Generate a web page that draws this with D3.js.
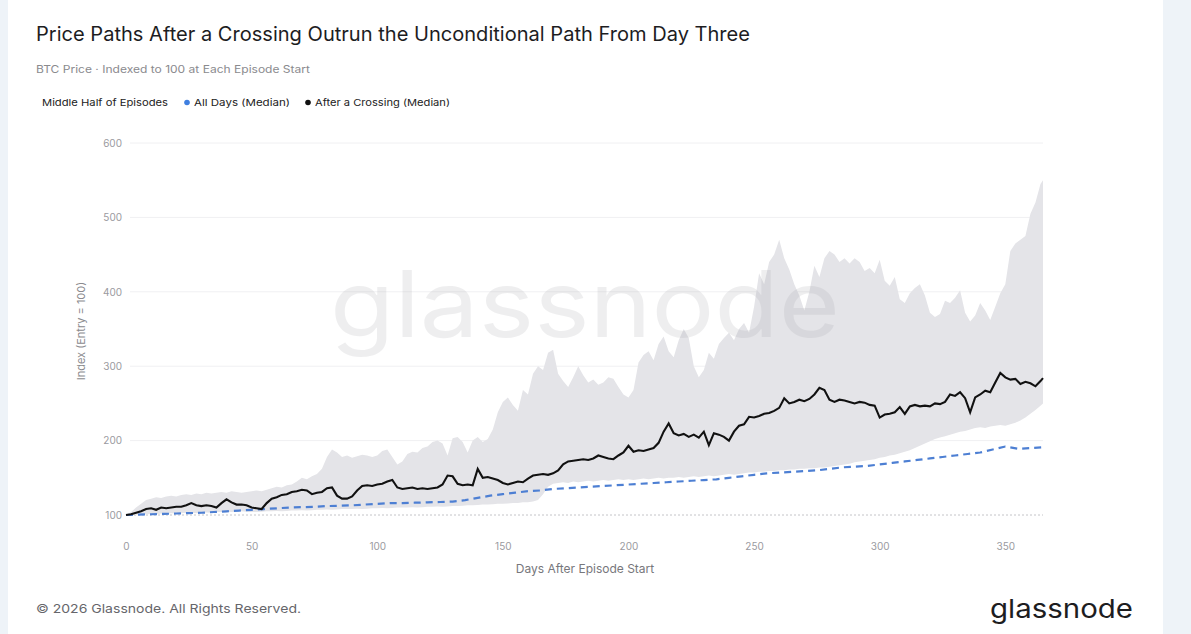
<!DOCTYPE html>
<html>
<head>
<meta charset="utf-8">
<script src="https://cdn.jsdelivr.net/npm/d3@7"></script>
<style>
  html, body { margin: 0; padding: 0; background: #eef3f8; }
  body { width: 1191px; height: 634px; overflow: hidden; font-family: Inter, Roboto, "Noto Sans", sans-serif; }
  #card { position: absolute; left: 8px; top: -12px; width: 1155px; height: 660px; background: #fff; border-radius: 12px; }
  svg { position: absolute; left: 0; top: 0; }
</style>
</head>
<body>
<div id="card"></div>
<div id="chart"></div>
<script>
// Chart data
const title = 'Price Paths After a Crossing Outrun the Unconditional Path From Day Three';
const subtitle = 'BTC Price · Indexed to 100 at Each Episode Start';
const legendLabels = ['Middle Half of Episodes', 'All Days (Median)', 'After a Crossing (Median)'];
const yTicks = [100, 200, 300, 400, 500, 600];
const xTicks = [0, 50, 100, 150, 200, 250, 300, 350];

// band + crossing series sampled every 2 days, last point is day 365
const days = d3.range(0, 365, 2).concat([365]);

const bandUpper = [
  100, 104, 110, 115, 120, 122, 124, 123, 125, 126, 125, 127, 128, 127, 129, 128, 130, 129, 130, 131,
  130, 132, 131, 130, 131, 132, 133, 132, 134, 136, 138, 137, 140, 141, 145, 150, 148, 152, 155, 162,
  178, 188, 184, 178, 180, 177, 179, 181, 180, 178, 180, 186, 188, 178, 168, 172, 182, 185, 184, 190,
  192, 198, 200, 196, 180, 203, 205, 198, 184, 200, 205, 198, 202, 215, 238, 252, 258, 248, 240, 268,
  262, 290, 300, 295, 318, 322, 290, 280, 272, 285, 300, 288, 278, 282, 275, 278, 285, 283, 272, 262,
  258, 268, 305, 315, 320, 308, 330, 340, 320, 312, 335, 350, 338, 300, 285, 295, 318, 310, 330, 338,
  345, 335, 350, 358, 345, 380, 425, 410, 440, 450, 470, 445, 430, 410, 395, 375, 400, 435, 420, 445,
  455, 450, 440, 445, 438, 445, 440, 428, 432, 425, 443, 415, 408, 420, 390, 385, 398, 405, 410, 395,
  372, 366, 370, 388, 385, 392, 402, 372, 360, 368, 385, 375, 362, 380, 398, 410, 455, 465, 470, 475,
  505, 520, 545, 550
];

const bandLower = [
  100, 100, 100.5, 101, 101, 101.5, 101, 102, 102, 102.5, 102, 102.5, 103, 103, 102.5, 103, 103.5, 103, 104, 104,
  104.5, 104, 104.5, 105, 104.5, 104, 104, 104.5, 105, 105, 105.5, 105, 105.5, 106, 106, 106.5, 106, 106.5, 107, 107,
  107.5, 107, 107.5, 108, 108, 108, 108.5, 108, 108.5, 109, 109, 109.5, 109, 109.5, 110, 110, 110, 110.5, 110, 110.5,
  111, 111, 111.5, 111, 111.5, 112, 112, 112.5, 113, 113, 113.5, 114, 114, 114.5, 115, 115, 115.5, 116, 116, 117,
  117, 118, 120, 128, 138, 142, 143, 144, 143, 145, 144, 145, 146, 145, 146, 147, 146, 147, 148, 147,
  148, 147, 148, 149, 148, 149, 150, 149, 150, 150, 151, 150, 151, 152, 151, 152, 153, 152, 153, 154,
  155, 154, 155, 156, 157, 157, 158, 158, 159, 159, 160, 160, 161, 161, 162, 162, 163, 163, 164, 164,
  165, 166, 167, 168, 169, 171, 172, 173, 174, 175, 177, 178, 180, 181, 183, 185, 187, 190, 193, 196,
  199, 202, 204, 206, 208, 210, 212, 213, 215, 217, 218, 217, 219, 220, 221, 220, 222, 224, 227, 231,
  236, 241, 247, 250
];

const afterCrossing = [
  100, 101, 103, 105, 108, 109, 107, 110, 109, 110, 111, 111, 113, 116, 113, 112, 113, 112, 110, 116,
  121, 117, 114, 114, 113, 110, 109, 108, 116, 122, 124, 127, 128, 131, 132, 134, 133, 128, 130, 131,
  136, 137, 126, 122, 122, 125, 133, 139, 140, 139, 141, 142, 145, 147, 137, 135, 136, 137, 135, 136,
  135, 136, 137, 141, 153, 152, 142, 140, 141, 140, 162, 150, 151, 149, 147, 143, 141, 143, 145, 144,
  149, 153, 154, 155, 154, 156, 160, 168, 172, 173, 174, 175, 174, 176, 180, 178, 176, 175, 180, 184,
  193, 185, 187, 186, 188, 190, 197, 212, 223, 210, 207, 209, 205, 208, 204, 212, 194, 210, 208, 205,
  200, 212, 220, 222, 232, 231, 233, 236, 237, 240, 244, 257, 250, 252, 255, 253, 256, 262, 271, 268,
  255, 252, 255, 254, 252, 250, 252, 251, 248, 247, 231, 235, 236, 238, 245, 236, 246, 248, 246, 247,
  246, 250, 249, 252, 262, 260, 265, 257, 238, 258, 262, 267, 265, 278, 291, 285, 282, 283, 276, 279,
  277, 273, 280, 284
];

// unconditional median, every 5 days
const allDaysX = d3.range(0, 366, 5);
const allDaysMedian = [
  100, 100.5, 101, 101.5, 102, 102.5, 103, 104, 105, 106, 107, 108, 109, 110, 110.5, 111, 112, 112.5, 113, 114,
  115, 116, 116, 116.5, 117, 117.5, 118, 120, 123, 126, 128, 130, 132, 133, 135, 136, 137, 138, 139, 140,
  141, 142, 143, 144, 145, 146, 147, 148, 150, 152, 154, 156, 157, 158, 159, 160, 162, 164, 165, 166,
  168, 170, 172, 174, 176, 178, 180, 182, 184, 188, 192, 189, 190, 191
];

const W = 1191, H = 634;
const margin = { left: 126, right: 148, top: 143, bottom: 119 };

const svg = d3.select('#chart').append('svg')
    .attr('width', W)
    .attr('height', H);

const x = d3.scaleLinear().domain([0, 365]).range([margin.left, W - margin.right]);
const y = d3.scaleLinear().domain([100, 600]).range([H - margin.bottom, margin.top]);

// Title block
svg.append('text')
    .attr('x', 36).attr('y', 41)
    .attr('font-size', '19.5px')
    .attr('fill', '#1d1d1f')
    .attr('textLength', 714)
    .attr('lengthAdjust', 'spacingAndGlyphs')
    .text(title);

svg.append('text')
    .attr('x', 36).attr('y', 73)
    .attr('font-size', '10.5px')
    .attr('fill', '#8a8a8e')
    .attr('textLength', 274)
    .attr('lengthAdjust', 'spacingAndGlyphs')
    .text(subtitle);

// Legend
const legend = svg.append('g').attr('font-size', '9.5px').attr('fill', '#222');
legend.append('text').attr('x', 42).attr('y', 106)
    .attr('textLength', 126).attr('lengthAdjust', 'spacingAndGlyphs')
    .text(legendLabels[0]);
legend.append('circle').attr('cx', 187).attr('cy', 102.5).attr('r', 2.8).attr('fill', '#3f7fe0');
legend.append('text').attr('x', 194).attr('y', 106)
    .attr('textLength', 96).attr('lengthAdjust', 'spacingAndGlyphs')
    .text(legendLabels[1]);
legend.append('circle').attr('cx', 308).attr('cy', 102.5).attr('r', 2.8).attr('fill', '#111');
legend.append('text').attr('x', 315).attr('y', 106)
    .attr('textLength', 135).attr('lengthAdjust', 'spacingAndGlyphs')
    .text(legendLabels[2]);

// Grid lines
const grid = svg.append('g');
yTicks.forEach(t => {
    grid.append('line')
        .attr('x1', x(0) + 4).attr('x2', x(365))
        .attr('y1', y(t)).attr('y2', y(t))
        .attr('stroke', t === 100 ? '#c4c4c8' : '#f0f0f2')
        .attr('stroke-width', 1)
        .attr('stroke-dasharray', t === 100 ? '2,2' : null);
});

// Band (middle half of episodes)
const bandData = days.map((d, i) => ({ d, lo: bandLower[i], hi: bandUpper[i] }));
svg.append('path')
    .datum(bandData)
    .attr('fill', '#e4e4e8')
    .attr('d', d3.area()
        .x(p => x(p.d))
        .y0(p => y(p.lo))
        .y1(p => y(p.hi)));

// Watermark
svg.append('text')
    .attr('x', 585).attr('y', 337)
    .attr('text-anchor', 'middle')
    .attr('font-size', '92px')
    .attr('font-family', 'Inter, "Open Sans", sans-serif')
    .attr('fill', '#9a9aa0')
    .attr('opacity', 0.16)
    .attr('textLength', 510)
    .attr('lengthAdjust', 'spacingAndGlyphs')
    .text('glassnode');

// All days median (dashed blue)
svg.append('path')
    .datum(allDaysX.map((d, i) => [d, allDaysMedian[i]]))
    .attr('fill', 'none')
    .attr('stroke', '#4d7fd3')
    .attr('stroke-width', 2.2)
    .attr('stroke-dasharray', '7,5')
    .attr('d', d3.line().x(p => x(p[0])).y(p => y(p[1])));

// After a crossing median (black)
svg.append('path')
    .datum(days.map((d, i) => [d, afterCrossing[i]]))
    .attr('fill', 'none')
    .attr('stroke', '#111')
    .attr('stroke-width', 2.1)
    .attr('stroke-linejoin', 'miter')
    .attr('d', d3.line().x(p => x(p[0])).y(p => y(p[1])));

// Axes
const yAxis = svg.append('g')
    .attr('transform', `translate(${x(0) - 2},0)`)
    .call(d3.axisLeft(y).tickValues(yTicks).tickSize(0).tickPadding(2));
yAxis.select('.domain').remove();
yAxis.selectAll('text')
    .attr('font-size', '10px')
    .attr('font-family', 'Inter, Roboto, sans-serif')
    .attr('fill', '#9a9aa0');

const xAxis = svg.append('g')
    .attr('transform', `translate(0,${y(100) + 22})`)
    .call(d3.axisBottom(x).tickValues(xTicks).tickSize(0).tickPadding(6));
xAxis.select('.domain').remove();
xAxis.selectAll('text')
    .attr('font-size', '10px')
    .attr('font-family', 'Inter, Roboto, sans-serif')
    .attr('fill', '#9a9aa0');

svg.append('text')
    .attr('transform', `translate(85,${(y(100) + y(600)) / 2 + 2}) rotate(-90)`)
    .attr('text-anchor', 'middle')
    .attr('font-size', '11px')
    .attr('fill', '#8a8a8e')
    .text('Index (Entry = 100)');

svg.append('text')
    .attr('x', 585).attr('y', 573)
    .attr('text-anchor', 'middle')
    .attr('font-size', '12px')
    .attr('fill', '#77777c')
    .text('Days After Episode Start');

// Footer
svg.append('text')
    .attr('x', 36).attr('y', 613)
    .attr('font-size', '12px')
    .attr('fill', '#66666b')
    .attr('textLength', 265)
    .attr('lengthAdjust', 'spacingAndGlyphs')
    .text('© 2026 Glassnode. All Rights Reserved.');

svg.append('text')
    .attr('x', 1133).attr('y', 618)
    .attr('text-anchor', 'end')
    .attr('font-size', '26px')
    .attr('font-family', 'Inter, "Open Sans", sans-serif')
    .attr('fill', '#1d1d1f')
    .attr('textLength', 143)
    .attr('lengthAdjust', 'spacingAndGlyphs')
    .text('glassnode');
</script>
</body>
</html>
